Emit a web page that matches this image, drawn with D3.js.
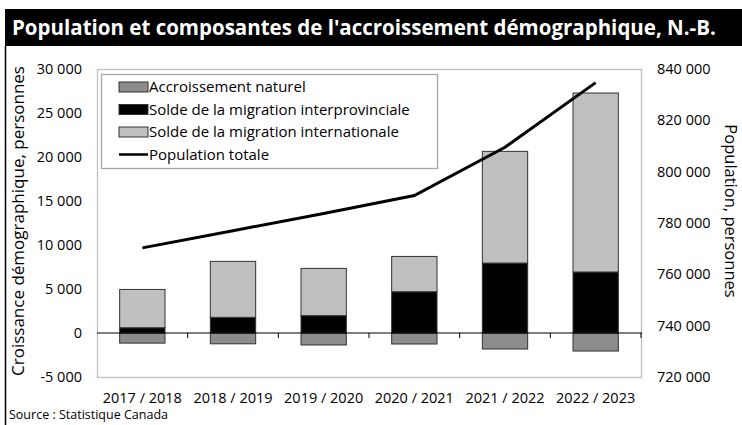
<!DOCTYPE html>
<html>
<head>
<meta charset="utf-8">
<script src="https://cdn.jsdelivr.net/npm/d3@7"></script>
<style>
  body { margin: 0; background: #fff; }
  svg text { font-family: "Open Sans", "Noto Sans", sans-serif; }
</style>
</head>
<body>
<svg id="chart" width="742" height="425"></svg>
<script>
// data
var categories = ['2017 / 2018', '2018 / 2019', '2019 / 2020', '2020 / 2021', '2021 / 2022', '2022 / 2023'];
var naturel = [-1150, -1230, -1360, -1250, -1820, -2050];
var interprovinciale = [600, 1780, 1970, 4690, 7950, 6930];
var internationale = [4350, 6360, 5370, 4010, 12690, 20340];
var population = [770300, 777000, 783700, 790700, 809500, 834700];
var leftTicks = [-5000, 0, 5000, 10000, 15000, 20000, 25000, 30000];
var rightTicks = [720000, 740000, 760000, 780000, 800000, 820000, 840000];

(function () {
var svg = d3.select('#chart');
var pLeft = 97, pRight = 641, pTop = 69, pBottom = 377;

var fmt = function (v) {
    var s = d3.format(',')(Math.abs(v)).replace(/,/g, ' ');
    return (v < 0 ? '-' : '') + s;
};

// title bar + frame
svg.append('rect').attr('x', 5).attr('y', 9).attr('width', 737).attr('height', 37).attr('fill', '#000');
svg.append('text')
    .attr('x', 12).attr('y', 35)
    .attr('fill', '#fff')
    .style('font-size', '20.5px').style('font-weight', 'bold')
    .text("Population et composantes de l'accroissement démographique, N.-B.");
svg.append('line').attr('x1', 5.5).attr('x2', 5.5).attr('y1', 46).attr('y2', 425)
    .attr('stroke', '#000').attr('stroke-width', 1.5);

var x = d3.scaleBand().domain(categories).range([pLeft, pRight]).paddingInner(0.5).paddingOuter(0.25);
var xb = d3.scaleBand().domain(categories).range([pLeft, pRight]);
var y = d3.scaleLinear().domain([-5000, 30000]).range([pBottom, pTop]);
var y2 = d3.scaleLinear().domain([720000, 840000]).range([pBottom, pTop]);

// plot border
svg.append('rect')
    .attr('x', pLeft + 0.5).attr('y', pTop + 0.5)
    .attr('width', pRight - pLeft).attr('height', pBottom - pTop)
    .attr('fill', 'none').attr('stroke', '#bfbfbf').attr('stroke-width', 1.3);

// stacked bars
var stacks = categories.map(function (c, i) {
    return [
        { key: 'naturel', y0: 0, y1: naturel[i], color: '#8c8c8c' },
        { key: 'inter', y0: 0, y1: interprovinciale[i], color: '#000' },
        { key: 'intl', y0: interprovinciale[i], y1: interprovinciale[i] + internationale[i], color: '#c0c0c0' }
    ].map(function (s) { s.cat = c; return s; });
});

svg.append('g').selectAll('g')
    .data(stacks)
    .enter().append('g')
    .selectAll('rect')
    .data(function (d) { return d; })
    .enter().append('rect')
    .attr('x', function (d) { return x(d.cat); })
    .attr('width', x.bandwidth())
    .attr('y', function (d) { return y(Math.max(d.y0, d.y1)); })
    .attr('height', function (d) { return Math.abs(y(d.y0) - y(d.y1)); })
    .attr('fill', function (d) { return d.color; })
    .attr('stroke', '#333')
    .attr('stroke-width', 1);

// zero axis with ticks between categories
var zero = svg.append('g').attr('transform', 'translate(0,' + y(0) + ')');
zero.append('line').attr('x1', pLeft).attr('x2', pRight + 1).attr('stroke', '#000').attr('stroke-width', 1);
zero.selectAll('.tk')
    .data(categories.slice(1).map(function (c) { return xb(c); }).concat([pRight]))
    .enter().append('line')
    .attr('x1', function (d) { return d; }).attr('x2', function (d) { return d; })
    .attr('y1', 0).attr('y2', 5)
    .attr('stroke', '#000');

// population line
var line = d3.line()
    .x(function (d, i) { return x(categories[i]) + x.bandwidth() / 2; })
    .y(function (d) { return y2(d); });
svg.append('path')
    .datum(population)
    .attr('d', line)
    .attr('fill', 'none')
    .attr('stroke', '#000')
    .attr('stroke-width', 3);

// left axis labels
svg.append('g').selectAll('text')
    .data(leftTicks)
    .enter().append('text')
    .attr('x', 82).attr('y', function (d) { return y(d); })
    .attr('dy', '0.35em')
    .attr('text-anchor', 'end')
    .style('font-size', '14.5px')
    .text(fmt);

// right axis labels
svg.append('g').selectAll('text')
    .data(rightTicks)
    .enter().append('text')
    .attr('x', 657).attr('y', function (d) { return y2(d); })
    .attr('dy', '0.35em')
    .style('font-size', '14.5px')
    .text(fmt);

// category labels
svg.append('g').selectAll('text')
    .data(categories)
    .enter().append('text')
    .attr('x', function (d) { return x(d) + x.bandwidth() / 2; })
    .attr('y', 403)
    .attr('text-anchor', 'middle')
    .style('font-size', '14.5px')
    .text(function (d) { return d; });

// axis titles
svg.append('text')
    .attr('transform', 'translate(24,221) rotate(-90)')
    .attr('text-anchor', 'middle')
    .style('font-size', '17px')
    .text('Croissance démographique, personnes');
svg.append('text')
    .attr('transform', 'translate(725,211) rotate(90)')
    .attr('text-anchor', 'middle')
    .style('font-size', '16.5px')
    .text('Population, personnes');

// source
svg.append('text')
    .attr('x', 9).attr('y', 419)
    .style('font-size', '12.5px')
    .text('Source : Statistique Canada');

// legend
var legend = svg.append('g');
legend.append('rect')
    .attr('x', 101.5).attr('y', 74.5).attr('width', 336).attr('height', 94)
    .attr('fill', '#fff').attr('stroke', '#a6a6a6').attr('stroke-width', 1.3);
var items = [
    { label: 'Accroissement naturel', color: '#8c8c8c', type: 'box' },
    { label: 'Solde de la migration interprovinciale', color: '#000', type: 'box' },
    { label: 'Solde de la migration internationale', color: '#c0c0c0', type: 'box' },
    { label: 'Population totale', color: '#000', type: 'line' }
];
var li = legend.selectAll('.item')
    .data(items)
    .enter().append('g')
    .attr('transform', function (d, i) { return 'translate(119,' + (87 + i * 22.5) + ')'; });
li.filter(function (d) { return d.type === 'box'; })
    .append('rect')
    .attr('x', 0).attr('y', -5).attr('width', 29).attr('height', 10)
    .attr('fill', function (d) { return d.color; })
    .attr('stroke', '#333');
li.filter(function (d) { return d.type === 'line'; })
    .append('line')
    .attr('x1', 0).attr('x2', 29)
    .attr('stroke', '#000').attr('stroke-width', 2.5);
li.append('text')
    .attr('x', 30).attr('dy', '0.35em')
    .style('font-size', '15px')
    .text(function (d) { return d.label; });
})();
</script>
</body>
</html>
